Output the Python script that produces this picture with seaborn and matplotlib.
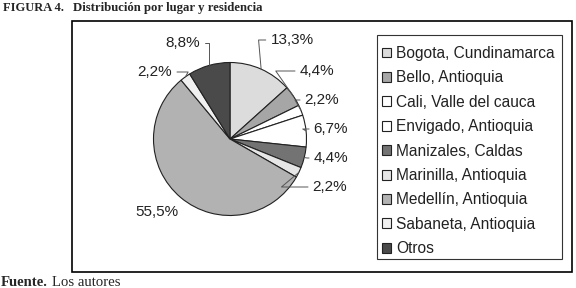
import matplotlib
matplotlib.use("Agg")
import matplotlib.pyplot as plt
import matplotlib.patches as mpatches
import seaborn as sns
import numpy as np

sns.set_style("white")
plt.rcParams['font.family'] = ['Liberation Sans', 'DejaVu Sans']

# ---- data ----
categories = ["Bogota, Cundinamarca", "Bello, Antioquia", "Cali, Valle del cauca",
              "Envigado, Antioquia", "Manizales, Caldas", "Marinilla, Antioquia",
              "Medellín, Antioquia", "Sabaneta, Antioquia", "Otros"]
values = [13.3, 4.4, 2.2, 6.7, 4.4, 2.2, 55.5, 2.2, 8.8]
value_labels = ["13,3%", "4,4%", "2,2%", "6,7%", "4,4%", "2,2%", "55,5%", "2,2%", "8,8%"]
colors = ["#dcdcdc", "#a6a6a6", "#ffffff", "#ffffff", "#737373",
          "#e6e6e6", "#b2b2b2", "#f0f0f0", "#4a4a4a"]

W, H = 576, 288
fig = plt.figure(figsize=(5.76, 2.88), dpi=100)
ax = fig.add_axes([0, 0, 1, 1])

cx, cy, r = 230, H - 139, 76.5
wedges, _ = ax.pie(values, colors=colors, startangle=90, counterclock=False,
                   center=(cx, cy), radius=r, frame=True,
                   wedgeprops=dict(edgecolor="#222222", linewidth=0.8))
ax.set_xlim(0, W)
ax.set_ylim(0, H)
ax.set_aspect("equal")
ax.axis("off")

# label positions (pixels, y from top) and leader line elbows
label_pos = [(292, 40), (317, 71), (322, 100), (331, 129), (331, 158),
             (330, 187), (157, 212), (155, 72), (183, 43)]
leader = [True, True, True, True, True, True, False, True, True]
conn = ["angle,angleA=0,angleB=95,rad=0", "angle,angleA=0,angleB=125,rad=0",
        "angle,angleA=0,angleB=120,rad=0", "angle,angleA=0,angleB=150,rad=0",
        "angle,angleA=0,angleB=170,rad=0", "angle,angleA=0,angleB=220,rad=0",
        None, "angle,angleA=0,angleB=60,rad=0", "angle,angleA=0,angleB=90,rad=0"]

for w, lab, (lx, ly), ld, cs in zip(wedges, value_labels, label_pos, leader, conn):
    ang = np.deg2rad((w.theta1 + w.theta2) / 2)
    ex, ey = cx + r * np.cos(ang), cy + r * np.sin(ang)
    if ld:
        ax.annotate(lab, xy=(ex, ey), xytext=(lx, H - ly), ha="center", va="center",
                    fontsize=11, color="#222222",
                    arrowprops=dict(arrowstyle="-", color="#555555", lw=0.7,
                                    connectionstyle=cs, shrinkA=1, shrinkB=0))
    else:
        ax.text(lx, H - ly, lab, ha="center", va="center", fontsize=11, color="#222222")

# outer frame and legend frame
ax.add_patch(mpatches.Rectangle((72, H - 272), 500, 251, fill=False,
                                edgecolor="black", linewidth=1.2))
ax.add_patch(mpatches.Rectangle((377, H - 259), 185, 224, fill=False,
                                edgecolor="#333333", linewidth=0.8))

leg = ax.legend(wedges, categories, loc="upper left",
                bbox_to_anchor=(382, H - 46), bbox_transform=ax.transData,
                frameon=False, fontsize=11.2, handlelength=0.6, handleheight=0.6,
                handletextpad=0.3, labelspacing=0.605, borderpad=0, borderaxespad=0)
for t in leg.get_texts():
    t.set_color("#222222")

# title and source
fig.text(3 / W, 1 - 8 / H, "FIGURA 4.", family="Liberation Serif", weight="bold",
         fontsize=9, va="center", ha="left")
fig.text(73 / W, 1 - 8 / H, "Distribución por lugar y residencia", family="Liberation Serif",
         weight="bold", fontsize=9.2, va="center", ha="left")
fig.text(1 / W, 1 - 282 / H, "Fuente.", family="Liberation Serif", weight="bold",
         fontsize=10.6, va="center", ha="left")
fig.text(52 / W, 1 - 282 / H, "Los autores", family="Liberation Serif",
         fontsize=10.6, va="center", ha="left")

fig.savefig("out.png", dpi=100)
